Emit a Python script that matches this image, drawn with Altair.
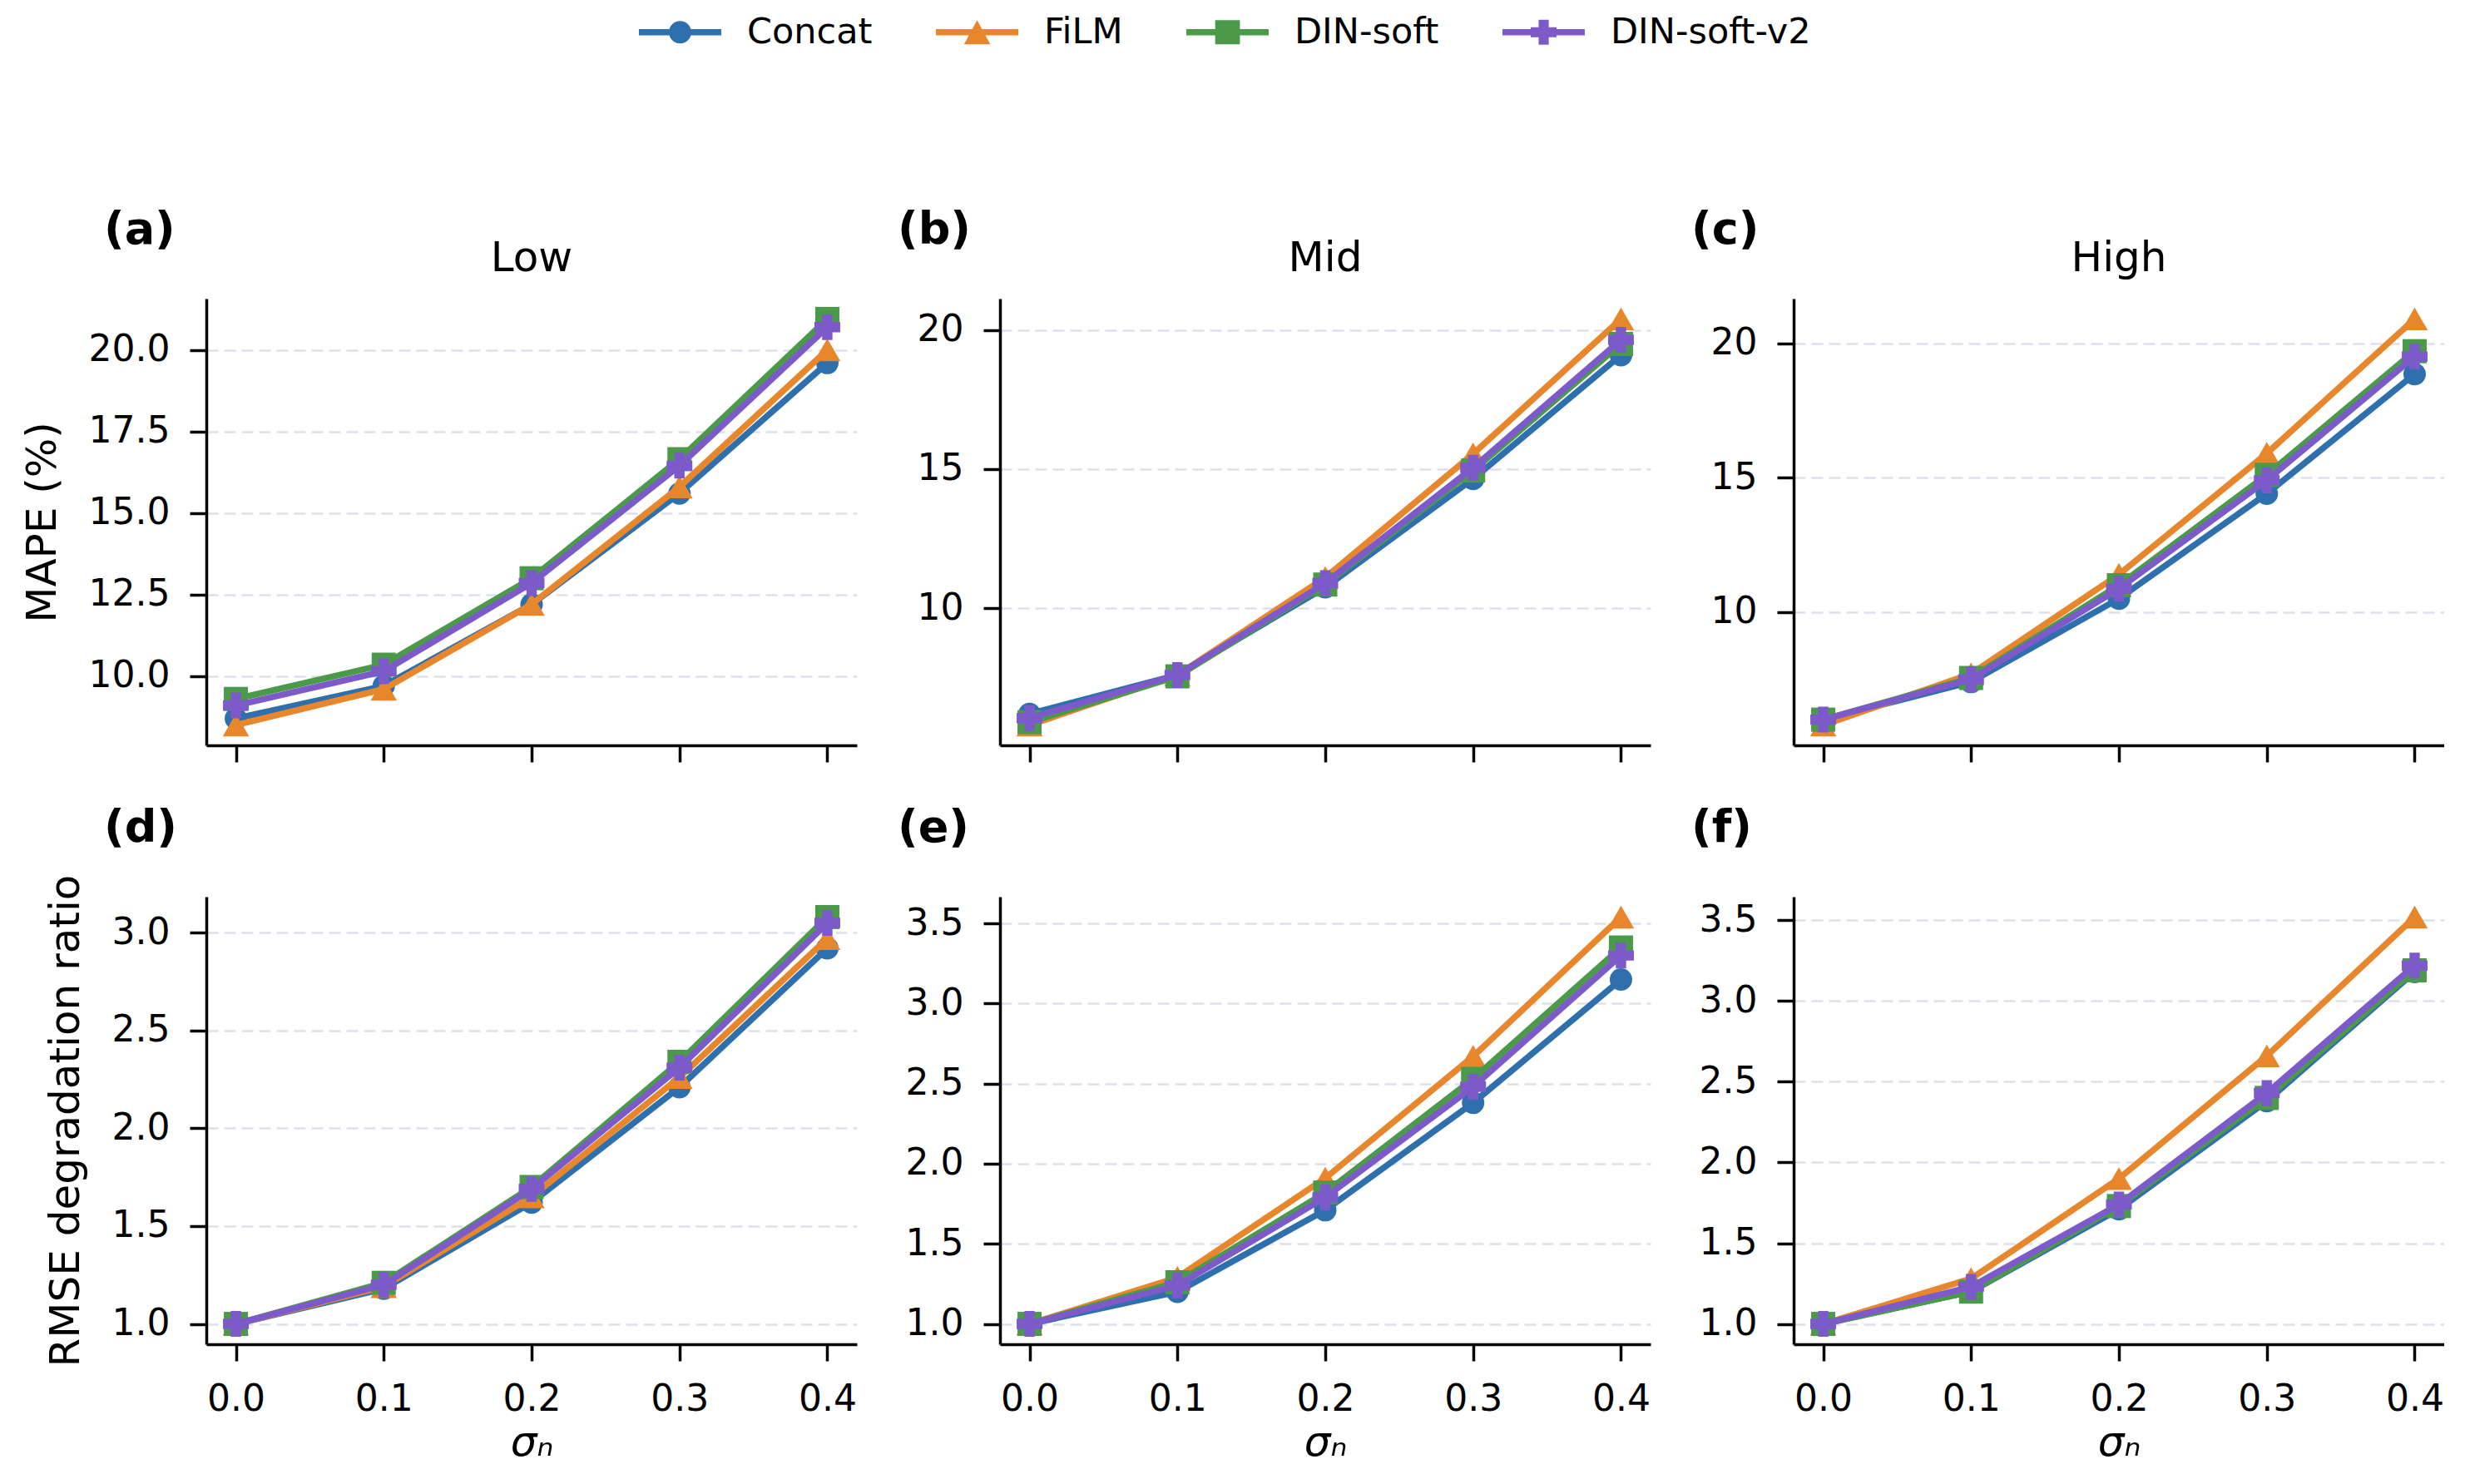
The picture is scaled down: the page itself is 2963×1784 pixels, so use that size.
import altair as alt
import pandas as pd

# ---------------- data ----------------
sigma = [0.0, 0.1, 0.2, 0.3, 0.4]
models = ["Concat", "FiLM", "DIN-soft", "DIN-soft-v2"]
regimes = ["Low", "Mid", "High"]
letters_top = ["(a)", "(b)", "(c)"]
letters_bottom = ["(d)", "(e)", "(f)"]

# MAPE (%) per regime, per model
mape_low_concat = [8.7, 9.7, 12.2, 15.6, 19.6]
mape_low_film = [8.5, 9.6, 12.2, 15.8, 20.0]
mape_low_dinsoft = [9.3, 10.35, 13.0, 16.65, 20.95]
mape_low_dinsoft_v2 = [9.1, 10.15, 12.85, 16.45, 20.7]

mape_mid_concat = [6.2, 7.6, 10.75, 14.65, 19.1]
mape_mid_film = [5.8, 7.6, 11.1, 15.55, 20.4]
mape_mid_dinsoft = [5.9, 7.55, 10.85, 14.95, 19.5]
mape_mid_dinsoft_v2 = [6.05, 7.6, 10.9, 15.05, 19.65]

mape_high_concat = [6.0, 7.4, 10.5, 14.4, 18.85]
mape_high_film = [5.8, 7.7, 11.4, 15.9, 20.9]
mape_high_dinsoft = [6.0, 7.55, 11.0, 15.1, 19.7]
mape_high_dinsoft_v2 = [6.0, 7.5, 10.87, 14.9, 19.5]

# RMSE degradation ratio per regime, per model
rmse_low_concat = [1.0, 1.18, 1.62, 2.21, 2.92]
rmse_low_film = [1.0, 1.19, 1.65, 2.26, 2.97]
rmse_low_dinsoft = [1.0, 1.21, 1.70, 2.34, 3.08]
rmse_low_dinsoft_v2 = [1.0, 1.20, 1.69, 2.31, 3.05]

rmse_mid_concat = [1.0, 1.20, 1.71, 2.38, 3.15]
rmse_mid_film = [1.0, 1.29, 1.91, 2.67, 3.54]
rmse_mid_dinsoft = [1.0, 1.26, 1.82, 2.53, 3.35]
rmse_mid_dinsoft_v2 = [1.0, 1.24, 1.79, 2.48, 3.30]

rmse_high_concat = [1.0, 1.20, 1.71, 2.38, 3.18]
rmse_high_film = [1.0, 1.28, 1.90, 2.66, 3.52]
rmse_high_dinsoft = [1.0, 1.20, 1.73, 2.40, 3.19]
rmse_high_dinsoft_v2 = [1.0, 1.23, 1.74, 2.43, 3.22]

mape_ticks_low = [10.0, 12.5, 15.0, 17.5, 20.0]
mape_ticks_other = [10, 15, 20]
rmse_ticks_low = [1.0, 1.5, 2.0, 2.5, 3.0]
rmse_ticks_other = [1.0, 1.5, 2.0, 2.5, 3.0, 3.5]

series = {
    ("MAPE", "Low"): [mape_low_concat, mape_low_film, mape_low_dinsoft, mape_low_dinsoft_v2],
    ("MAPE", "Mid"): [mape_mid_concat, mape_mid_film, mape_mid_dinsoft, mape_mid_dinsoft_v2],
    ("MAPE", "High"): [mape_high_concat, mape_high_film, mape_high_dinsoft, mape_high_dinsoft_v2],
    ("RMSE", "Low"): [rmse_low_concat, rmse_low_film, rmse_low_dinsoft, rmse_low_dinsoft_v2],
    ("RMSE", "Mid"): [rmse_mid_concat, rmse_mid_film, rmse_mid_dinsoft, rmse_mid_dinsoft_v2],
    ("RMSE", "High"): [rmse_high_concat, rmse_high_film, rmse_high_dinsoft, rmse_high_dinsoft_v2],
}

# ---------------- styles ----------------
FONT = "DejaVu Sans"
colors = ["#2e6fad", "#e8862b", "#4b9a4a", "#7d5ac9"]
markers = ["circle", "triangle-up", "square", "cross"]
marker_sizes = [729, 1000, 841, 961]
# legend glyphs: line segment with the marker on it (unit = half marker size)
legend_paths = [
    "M-1,-0.27H6.33V0.27H-1Z M3.67,0A1,1 0 1,1 1.67,0A1,1 0 1,1 3.67,0Z",
    "M-1,-0.27H6.33V0.27H-1Z M2.67,-1.07L3.84,1.07H1.5Z",
    "M-1,-0.27H6.33V0.27H-1Z M1.57,-1.07H3.77V1.07H1.57Z",
    "M-1,-0.27H6.33V0.27H-1Z M2.22,-1.12H3.12V-0.45H3.82V0.45H3.12V1.12H2.22V0.45H1.52V-0.45H2.22Z",
]

W, H1, H2 = 782, 537, 538

rows = []
for (metric, regime), vals in series.items():
    for m, v in zip(models, vals):
        for s, y in zip(sigma, v):
            rows.append({"metric": metric, "regime": regime, "model": m, "sigma": s, "value": y})
df = pd.DataFrame(rows)


def padded(lo, hi):
    r = hi - lo
    return [lo - 0.05 * r, hi + 0.05 * r]


xdom = padded(min(sigma), max(sigma))


def panel(metric, regime, letter, header, yticks, yfmt, ytitle, bottom, height, with_legend):
    sub = df[(df.metric == metric) & (df.regime == regime)]
    ydom = padded(sub.value.min(), sub.value.max())
    base = alt.Chart(sub)
    x = alt.X(
        "sigma:Q",
        scale=alt.Scale(domain=xdom, nice=False, zero=False),
        axis=alt.Axis(
            values=sigma, format=".1f", labels=bottom, grid=False,
            title="σₙ" if bottom else None, titleFontStyle="italic",
            titlePadding=5,
        ),
    )
    y = alt.Y(
        "value:Q",
        scale=alt.Scale(domain=ydom, nice=False, zero=False),
        axis=alt.Axis(
            values=yticks, format=yfmt, title=ytitle, grid=True,
            gridDash=[14, 7], gridColor="#dde1eb", gridWidth=2.5,
        ),
    )
    layers = []
    for m, c, shp, sz in zip(models, colors, markers, marker_sizes):
        one = base.transform_filter(alt.datum.model == m)
        layers.append(one.mark_line(color=c, strokeWidth=7.5).encode(x=x, y=y))
        layers.append(
            one.mark_point(shape=shp, size=sz, filled=True, color=c, opacity=1, strokeWidth=0).encode(x=x, y=y)
        )
    if with_legend:
        leg = alt.Legend(
            title=None, orient="none", legendX=512, legendY=-342, direction="horizontal",
            columns=4, symbolSize=729, symbolStrokeWidth=0, symbolOpacity=1,
            labelFont=FONT, labelFontSize=43, labelColor="black", labelLimit=600,
            labelOffset=95, columnPadding=68,
        )
        layers.append(
            base.transform_filter("false")
            .mark_point(filled=True, opacity=1)
            .encode(
                x=x, y=y,
                color=alt.Color("model:N", scale=alt.Scale(domain=models, range=colors), legend=leg),
                shape=alt.Shape("model:N", scale=alt.Scale(domain=models, range=legend_paths), legend=leg),
            )
        )
    layers.append(
        alt.Chart(pd.DataFrame({"t": [letter]}))
        .mark_text(font=FONT, fontSize=54, fontWeight="bold", align="left", baseline="alphabetic", color="black")
        .encode(text="t:N", x=alt.value(-123), y=alt.value(-66))
    )
    if header:
        layers.append(
            alt.Chart(pd.DataFrame({"t": [header]}))
            .mark_text(font=FONT, fontSize=50, align="center", baseline="alphabetic", color="black")
            .encode(text="t:N", x=alt.value(W / 2), y=alt.value(-33))
        )
    return alt.layer(*layers).properties(width=W, height=height)


panels = []
for i, reg in enumerate(regimes):
    panels.append(panel(
        "MAPE", reg, letters_top[i], reg,
        mape_ticks_low if i == 0 else mape_ticks_other,
        ".1f" if i == 0 else "d",
        "MAPE (%)" if i == 0 else None, False, H1, i == 0,
    ))
for i, reg in enumerate(regimes):
    panels.append(panel(
        "RMSE", reg, letters_bottom[i], None,
        rmse_ticks_low if i == 0 else rmse_ticks_other,
        ".1f", "RMSE degradation ratio" if i == 0 else None, True, H2, False,
    ))

chart = (
    alt.concat(*panels, columns=3, spacing={"row": 182, "column": 172}, bounds="flush")
    .properties(padding={"left": 18, "top": 9, "right": 0, "bottom": 14}, background="white")
    .configure_view(stroke=None)
    .configure_axis(
        domainColor="black", domainWidth=3.5,
        tickColor="black", tickWidth=3.5, tickSize=20,
        labelFont=FONT, labelFontSize=44, labelColor="black", labelPadding=24,
        titleFont=FONT, titleFontSize=50, titleFontWeight="normal", titleColor="black",
        titlePadding=30, labelFlush=False, labelOverlap=False,
    )
)

chart.save("out.html", embed_options={"renderer": "svg", "actions": False})
